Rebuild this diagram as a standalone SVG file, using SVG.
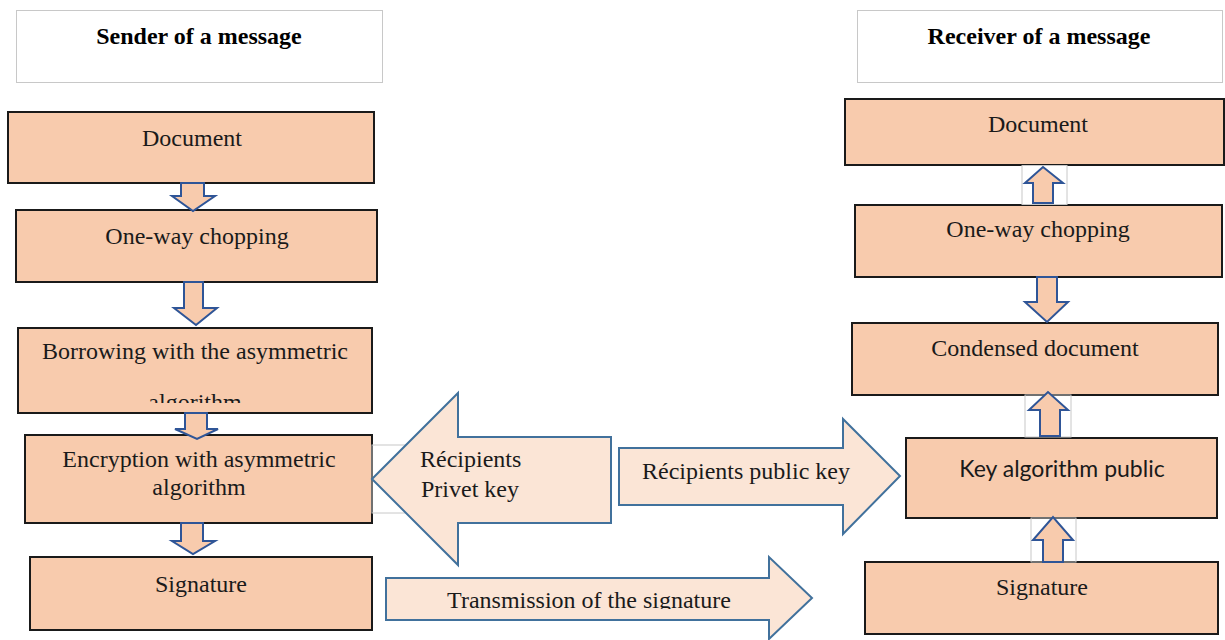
<svg xmlns="http://www.w3.org/2000/svg" width="1225" height="640" viewBox="0 0 1225 640">
<style>
.hdr{fill:#fff;stroke:#c8c8c8;stroke-width:1}
.box{fill:#f8cbad;stroke:#1a1a1a;stroke-width:2}
.sa{fill:#f8cbad;stroke:#2f5597;stroke-width:2;stroke-linejoin:miter}
.ba{fill:#fbe5d6;stroke:#41719c;stroke-width:2}
.frame{fill:none;stroke:#c8c8c8;stroke-width:1}
.t{font-family:"Liberation Serif","Times New Roman",serif;font-size:24px;fill:#1a1a1a;text-anchor:middle}
.b{font-weight:bold;fill:#000}
.s{font-family:Lato,"Liberation Sans",sans-serif;font-size:23px;fill:#1a1a1a;text-anchor:middle}
</style>
<defs>
<clipPath id="clipBorrow"><rect x="18" y="328" width="354" height="75"/></clipPath>
<clipPath id="clipTrans"><rect x="386" y="560" width="420" height="49"/></clipPath>
</defs>

<g id="sender-header">
<rect class="hdr" x="16.5" y="10.5" width="366" height="72"/>
<text class="t b" x="199" y="44">Sender of a message</text>
</g>
<g id="receiver-header">
<rect class="hdr" x="857.5" y="10.5" width="365" height="72"/>
<text class="t b" x="1039" y="44">Receiver of a message</text>
</g>

<g id="s-document">
<rect class="box" x="8" y="112" width="366" height="71"/>
<text class="t" x="192" y="146">Document</text>
</g>
<g id="s-oneway">
<rect class="box" x="16" y="210" width="361" height="72"/>
<text class="t" x="197" y="244">One-way chopping</text>
</g>
<g id="s-borrowing">
<rect class="box" x="18" y="328" width="354" height="85"/>
<g clip-path="url(#clipBorrow)">
<text class="t" x="195" y="359">Borrowing with the asymmetric</text>
<text class="t" x="195" y="410">algorithm</text>
</g>
</g>
<g id="s-encryption">
<rect class="box" x="25" y="435" width="347" height="88"/>
<text class="t" x="199" y="467">Encryption with asymmetric</text>
<text class="t" x="199" y="495">algorithm</text>
</g>
<g id="s-signature">
<rect class="box" x="30" y="557" width="342" height="73"/>
<text class="t" x="201" y="592">Signature</text>
</g>

<g id="r-document">
<rect class="box" x="845" y="99" width="379" height="66"/>
<text class="t" x="1038" y="132">Document</text>
</g>
<g id="r-oneway">
<rect class="box" x="855" y="205" width="367" height="72"/>
<text class="t" x="1038" y="237">One-way chopping</text>
</g>
<g id="r-condensed">
<rect class="box" x="852" y="323" width="366" height="72"/>
<text class="t" x="1035" y="356">Condensed document</text>
</g>
<g id="r-keyalgo">
<rect class="box" x="906" y="438" width="311" height="80"/>
<text class="s" x="1062" y="477">Key algorithm public</text>
</g>
<g id="r-signature">
<rect class="box" x="865" y="562" width="353" height="72"/>
<text class="t" x="1042" y="595">Signature</text>
</g>

<g id="connectors">
<path class="sa" d="M181,183 H204 V196 H215 L193,211 L172,196 H181 Z"/>
<path class="sa" d="M184,282 H203 V308 H217 L196,325 L174,308 H184 Z"/>
<path class="sa" d="M185,413 H207 V429 H218 L197,439 L175,429 H185 Z"/>
<path class="sa" d="M181,523 H203 V541 H215 L193,554 L172,541 H181 Z"/>

<rect class="frame" x="1022" y="165.5" width="45" height="39"/>
<path class="sa" d="M1033,203 V183 H1025 L1043,167 L1063,183 H1053 V203 Z"/>
<path class="sa" d="M1037,277 H1057 V302 H1068 L1047,322 L1025,302 H1037 Z"/>
<rect class="frame" x="1025" y="395" width="46" height="42"/>
<path class="sa" d="M1040,436 V410 H1029 L1048,392 L1068,410 H1060 V436 Z"/>
<rect class="frame" x="1031" y="518" width="45" height="44"/>
<path class="sa" d="M1043,562 V540 H1033 L1053,517 L1073,540 H1063 V562 Z"/>

<rect class="frame" x="372" y="445" width="100" height="68"/>
<g id="privet-key-arrow">
<path class="ba" d="M372,479 L458,393 V437 H611 V523 H458 V565 Z"/>
<text class="t" x="420" y="467" style="text-anchor:start">Récipients</text>
<text class="t" x="421" y="497" style="text-anchor:start">Privet key</text>
</g>
<g id="public-key-arrow">
<path class="ba" d="M619,448 H843 V419 L900,476 L843,534 V505 H619 Z"/>
<text class="t" x="746" y="479">Récipients public key</text>
</g>
<g id="transmission-arrow">
<path class="ba" d="M386,578 H769 V557 L812,598 L769,639 V620 H386 Z"/>
<text class="t" x="589" y="608" clip-path="url(#clipTrans)">Transmission of the signature</text>
</g>
</g>
</svg>
